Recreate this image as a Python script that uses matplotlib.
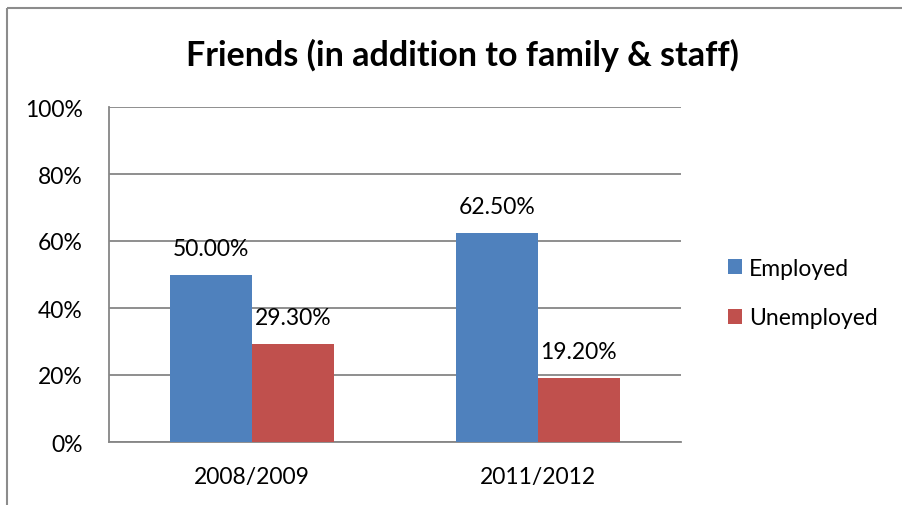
import numpy as np
import matplotlib.pyplot as plt
from matplotlib.lines import Line2D
from matplotlib.ticker import PercentFormatter

plt.rcParams['font.family'] = ['Lato', 'DejaVu Sans']

years = ['2008/2009', '2011/2012']
employed = [50.00, 62.50]
unemployed = [29.30, 19.20]
yticks = [0, 20, 40, 60, 80, 100]

blue = '#4f81bd'
red = '#c0504d'
grid_gray = '#868686'
fs = 16.5

fig = plt.figure(figsize=(9.02, 5.06), dpi=100)
ax = fig.add_axes([109 / 902, 1 - 443 / 506, 572 / 902, 335 / 506])

# chart frame: only its left and top edges fall inside the image
fx, fy = 7 / 902, 1 - 9 / 506
fig.add_artist(Line2D([fx, fx], [-0.1, fy], transform=fig.transFigure,
                      color='#8c8c8c', linewidth=1.5, solid_capstyle='butt'))
fig.add_artist(Line2D([fx, 1.1], [fy, fy], transform=fig.transFigure,
                      color='#8c8c8c', linewidth=1.5, solid_capstyle='butt'))

x = np.arange(len(years))
w = 1 / 3.5
b1 = ax.bar(x - w / 2, employed, w, color=blue, label='Employed', zorder=3)
b2 = ax.bar(x + w / 2, unemployed, w, color=red, label='Unemployed', zorder=3)

for bars, vals in ((b1, employed), (b2, unemployed)):
    for bar, v in zip(bars, vals):
        ax.annotate(f'{v:.2f}%', (bar.get_x() + bar.get_width() / 2, v),
                    xytext=(0, 19), textcoords='offset points',
                    ha='center', va='center', fontsize=fs)

ax.set_xlim(-0.5, 1.5)
ax.set_ylim(0, 100)
ax.set_yticks(yticks)
ax.yaxis.set_major_formatter(PercentFormatter(decimals=0))
ax.set_xticks(x)
ax.set_xticklabels(years)
ax.tick_params(axis='both', length=0, labelsize=fs)
ax.tick_params(axis='y', pad=19)
ax.tick_params(axis='x', pad=17)
ax.yaxis.grid(True, color=grid_gray, linewidth=1.3, zorder=0)
ax.set_axisbelow(True)
for s in ('top', 'right'):
    ax.spines[s].set_visible(False)
for s in ('left', 'bottom'):
    ax.spines[s].set_color(grid_gray)
    ax.spines[s].set_linewidth(1.3)

fig.text(462 / 902, 1 - 55 / 506, 'Friends (in addition to family & staff)',
         ha='center', va='center', fontsize=24.5, fontweight='bold')

fig.legend(handles=[b1, b2], loc='center left',
           bbox_to_anchor=(717 / 902, 1 - 294 / 506), frameon=False,
           fontsize=fs, handlelength=0.6, handleheight=0.6,
           handletextpad=0.3, labelspacing=1.25, borderpad=0)

fig.savefig('out.png', dpi=100)
